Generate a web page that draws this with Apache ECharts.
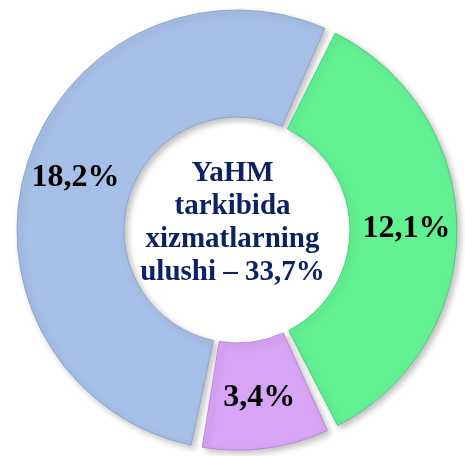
<!DOCTYPE html>
<html>
<head>
<meta charset="utf-8">
<script src="https://cdn.jsdelivr.net/npm/echarts@6/dist/echarts.min.js"></script>
<style>
html, body { margin: 0; padding: 0; background: #fff; }
#main { width: 465px; height: 456px; }
</style>
</head>
<body>
<div id="main"></div>
<script>
// ulush qiymatlari (foizda)
var categories = ['Blue', 'Green', 'Purple'];
var values = [18.2, 12.1, 3.4];
var labels = ['18,2%', '12,1%', '3,4%'];
var colors = ['#a6bfe6', '#63f093', '#d8a4f6'];
var edges = ['#8ea7cf', '#4fcf7b', '#b98bd6'];
var centerLines = ['YaHM', 'tarkibida', 'xizmatlarning', 'ulushi \u2013 33,7%'];

var myChart = echarts.init(document.getElementById('main'));

var total = values.reduce(function (a, b) { return a + b; }, 0);
// ko'k bo'lak yuqori o'ngdagi bo'shliqdan boshlab soat yo'nalishida tugaydi
var startAngle = 65 + values[0] / total * 360;

var option = {
    graphic: [{
        type: 'text',
        left: 'center',
        top: 157,
        style: {
            text: centerLines.join('\n'),
            font: 'bold 29px "Liberation Serif", "Times New Roman", serif',
            fill: '#0d2260',
            textAlign: 'center',
            lineHeight: 33
        }
    }],
    series: [{
        type: 'pie',
        center: [237, 230],
        radius: [113, 220],
        startAngle: startAngle,
        clockwise: true,
        padAngle: 3,
        avoidLabelOverlap: false,
        label: {
            show: true,
            position: 'inside',
            formatter: function (p) { return labels[p.dataIndex]; },
            color: '#000',
            fontFamily: '"Liberation Serif", "Times New Roman", serif',
            fontWeight: 'bold',
            fontSize: 32
        },
        labelLine: { show: false },
        emphasis: { disabled: true },
        data: categories.map(function (c, i) {
            return {
                name: c,
                value: values[i],
                itemStyle: {
                    color: colors[i],
                    borderColor: edges[i],
                    borderWidth: 1,
                    shadowBlur: 6,
                    shadowColor: 'rgba(0,0,0,0.25)',
                    shadowOffsetX: 3,
                    shadowOffsetY: 3
                }
            };
        })
    }]
};

myChart.setOption(option);

window.addEventListener('resize', function () {
    myChart.resize();
});
</script>
</body>
</html>
